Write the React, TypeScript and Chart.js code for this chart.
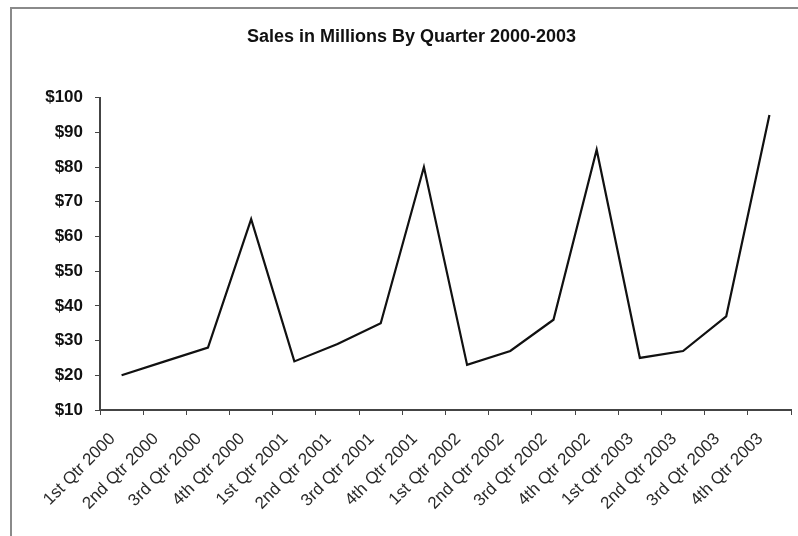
import React, { useEffect, useRef } from "react";
import { Chart, registerables } from "chart.js";

Chart.register(...registerables);

const quarters: string[] = [
  "1st Qtr 2000", "2nd Qtr 2000", "3rd Qtr 2000", "4th Qtr 2000",
  "1st Qtr 2001", "2nd Qtr 2001", "3rd Qtr 2001", "4th Qtr 2001",
  "1st Qtr 2002", "2nd Qtr 2002", "3rd Qtr 2002", "4th Qtr 2002",
  "1st Qtr 2003", "2nd Qtr 2003", "3rd Qtr 2003", "4th Qtr 2003",
];
const sales: number[] = [20, 24, 28, 65, 24, 29, 35, 80, 23, 27, 36, 85, 25, 27, 37, 95];
const yMin = 10;
const yMax = 100;
const yStep = 10;
const titleText = "Sales in Millions By Quarter 2000-2003";

const framePlugin = {
  id: "frame",
  beforeDraw(chart: any) {
    const ctx = chart.ctx;
    ctx.save();
    ctx.fillStyle = "#ffffff";
    ctx.fillRect(0, 0, chart.width, chart.height);
    ctx.strokeStyle = "#8a8a8a";
    ctx.lineWidth = 2;
    ctx.beginPath();
    ctx.moveTo(11, chart.height + 5);
    ctx.lineTo(11, 8);
    ctx.lineTo(chart.width + 5, 8);
    ctx.stroke();
    ctx.restore();
  },
};

export default function App() {
  const ref = useRef<HTMLCanvasElement | null>(null);
  useEffect(() => {
    if (!ref.current) return;
    const font = "Arial, 'Liberation Sans', Helvetica, sans-serif";
    const chart = new Chart(ref.current, {
      type: "line",
      data: {
        labels: quarters,
        datasets: [
          {
            label: "Sales",
            data: sales,
            borderColor: "#111111",
            borderWidth: 2.2,
            pointRadius: 0,
            tension: 0,
            fill: false,
          },
        ],
      },
      options: {
        responsive: false,
        animation: false,
        layout: { padding: { left: 30, right: 5, top: 0, bottom: 0 } },
        plugins: {
          legend: { display: false },
          tooltip: { enabled: false },
          title: {
            display: true,
            text: titleText,
            color: "#111111",
            font: { family: font, size: 18, weight: "bold" },
            padding: { top: 26, bottom: 50 },
          },
        },
        scales: {
          x: {
            type: "category",
            offset: true,
            grid: {
              offset: true,
              drawOnChartArea: false,
              drawTicks: true,
              tickLength: 5,
              color: "#444444",
            },
            border: { display: true, color: "#444444", width: 2 },
            ticks: {
              maxRotation: 45,
              minRotation: 45,
              autoSkip: false,
              padding: 14,
              labelOffset: -9,
              color: "#2a2a2a",
              font: { family: font, size: 17 },
            },
            afterFit(scale: any) {
              scale.height = 126;
            },
          },
          y: {
            min: yMin,
            max: yMax,
            grid: {
              drawOnChartArea: false,
              drawTicks: true,
              tickLength: 5,
              color: "#444444",
            },
            border: { display: true, color: "#444444", width: 2 },
            ticks: {
              stepSize: yStep,
              padding: 12,
              color: "#111111",
              font: { family: font, size: 17, weight: "bold" },
              callback: (v: any) => "$" + v,
            },
            afterFit(scale: any) {
              scale.width = 70;
            },
          },
        },
      },
      plugins: [framePlugin],
    });
    return () => chart.destroy();
  }, []);
  return (
    <div style={{ position: "fixed", left: 0, top: 0, width: 798, height: 536, background: "#fff" }}>
      <canvas ref={ref} width={798} height={536} />
    </div>
  );
}
